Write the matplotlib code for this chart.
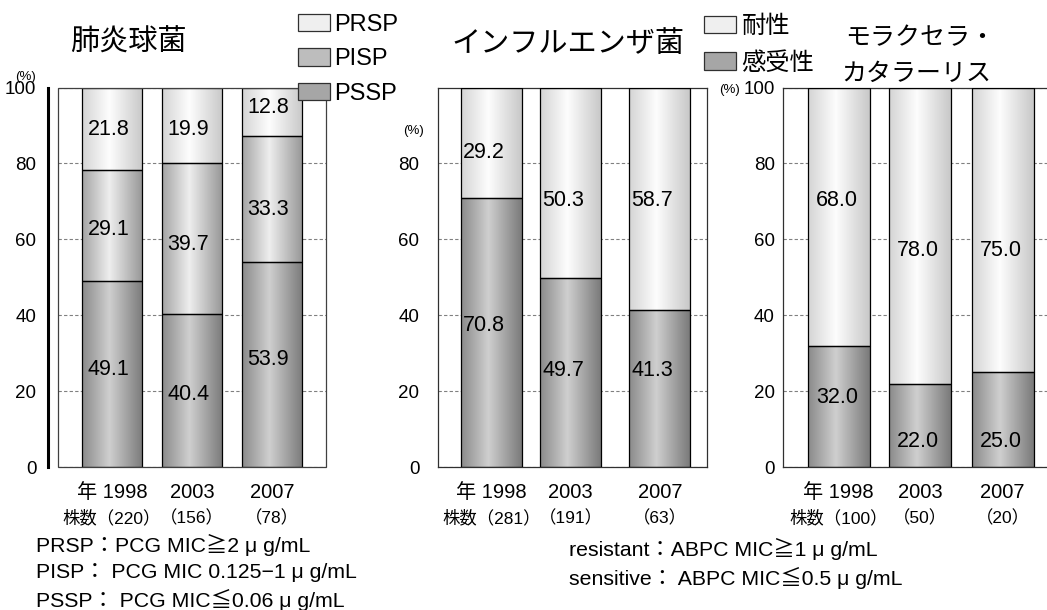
import numpy as np
import matplotlib
matplotlib.use("Agg")
import matplotlib.pyplot as plt
from matplotlib.colors import LinearSegmentedColormap
from matplotlib.patches import Patch, Rectangle
from matplotlib.transforms import blended_transform_factory

plt.rcParams['font.family'] = ['Liberation Sans', 'Noto Sans CJK JP', 'DejaVu Sans']

# ---------------- data ----------------
years = ['1998', '2003', '2007']

pneumo_counts = ['220', '156', '78']
pneumo_pssp = [49.1, 40.4, 53.9]
pneumo_pisp = [29.1, 39.7, 33.3]
pneumo_prsp = [21.8, 19.9, 12.8]

flu_counts = ['281', '191', '63']
flu_sensitive = [70.8, 49.7, 41.3]
flu_resistant = [29.2, 50.3, 58.7]

mora_counts = ['100', '50', '20']
mora_sensitive = [32.0, 22.0, 25.0]
mora_resistant = [68.0, 78.0, 75.0]

pneumo_ticks = [0, 20, 40, 60, 80, 100]
flu_ticks = [0, 20, 40, 60, 80]
mora_ticks = [0, 20, 40, 60, 80, 100]

pneumo_defs = ['PRSP：PCG MIC≧2 μ g/mL',
               'PISP： PCG MIC 0.125−1 μ g/mL',
               'PSSP： PCG MIC≦0.06 μ g/mL']
hflu_defs = ['resistant：ABPC MIC≧1 μ g/mL',
             'sensitive： ABPC MIC≦0.5 μ g/mL']

# ---------------- layout (not data) ----------------
pneumo_pos = [0, 1, 2]
flu_pos = [0, 1, 2.13]
mora_pos = [0, 1, 2.02]

pneumo_label_y = [[25.8, 19.2, 28.4], [62.6, 58.7, 67.9], [88.9, 88.9, 94.7]]
flu_label_y = [[37.4, 25.5, 25.5], [83.0, 70.3, 70.3]]
mora_label_y = [[18.4, 6.6, 6.6], [70.3, 57.1, 57.1]]

W, H = 1047, 610
fig = plt.figure(figsize=(W / 100, H / 100), dpi=100)


def fx(px):
    return px / W


def fy(py):
    return 1 - py / H


def cmap(edge_l, center, edge_r):
    return LinearSegmentedColormap.from_list(
        'g', [(0, edge_l), (0.45, center), (1, edge_r)])


CM_LIGHT = cmap('#d4d4d4', '#fdfdfd', '#c8c8c8')
CM_MID = cmap('#a4a4a4', '#eeeeee', '#969696')
CM_DARK = cmap('#8a8a8a', '#cfcfcf', '#7a7a7a')
GRAD = np.linspace(0, 1, 256)[None, :]

TOP_PX, BOT_PX = 87.5, 467


def make_ax(left_px, right_px):
    return fig.add_axes([fx(left_px), fy(BOT_PX), fx(right_px - left_px),
                         (BOT_PX - TOP_PX) / H])


def draw_stack(ax, pos, layers, width, label_y, off, fs=15.5):
    bottom = np.zeros(len(pos))
    for li, (vals, cm) in enumerate(layers):
        bars = ax.bar(pos, vals, width, bottom=bottom, facecolor='none',
                      edgecolor='black', linewidth=0.9, zorder=3)
        for i, p in enumerate(bars):
            x0, y0, w, h = p.get_x(), p.get_y(), p.get_width(), p.get_height()
            ax.imshow(GRAD, extent=(x0, x0 + w, y0, y0 + h), aspect='auto',
                      cmap=cm, zorder=2, interpolation='bilinear')
            ax.text(x0 + off, label_y[li][i], f'{vals[i]:.1f}', ha='left',
                    va='center', fontsize=fs, zorder=4)
        bottom = bottom + np.asarray(vals)


def style_ax(ax, xlim, ticks, pad):
    ax.set_xlim(*xlim)
    ax.set_ylim(0, 100)
    ax.set_yticks(ticks)
    ax.set_yticklabels([str(t) for t in ticks])
    ax.set_xticks([])
    ax.tick_params(axis='y', length=0, pad=pad, labelsize=13.5)
    ax.yaxis.grid(True, linestyle=(0, (3, 2)), color='#808080', linewidth=0.8)
    ax.set_axisbelow(True)
    for s in ax.spines.values():
        s.set_color('#303030')
        s.set_linewidth(0.9)


def year_labels(ax, pos, counts):
    trans = blended_transform_factory(ax.transData, fig.transFigure)
    for i, p in enumerate(pos):
        ax.text(p, fy(492), ('年 ' if i == 0 else '') + years[i], ha='center',
                va='center', fontsize=14.5, transform=trans)
        ax.text(p, fy(518), ('株数' if i == 0 else '') + '（' + counts[i] + '）',
                ha='center', va='center', fontsize=12.5, transform=trans)


# ---------------- panel 1: 肺炎球菌 ----------------
ax1 = make_ax(58, 326)
for k in ['top', 'right', 'bottom']:
    ax1.spines[k].set_visible(False)
ax1.spines['left'].set_position(('outward', 7.5))
draw_stack(ax1, pneumo_pos,
           [(pneumo_pssp, CM_DARK), (pneumo_pisp, CM_MID), (pneumo_prsp, CM_LIGHT)],
           0.76, pneumo_label_y, 0.075)
style_ax(ax1, (-0.675, 2.675), pneumo_ticks, 8)
ax1.spines['left'].set_color('black')
ax1.spines['left'].set_linewidth(2.2)
ax1.add_patch(Rectangle((0, 0), 1, 1, transform=ax1.transAxes, fill=False,
                        edgecolor='#404040', linewidth=0.9, zorder=5,
                        clip_on=False))
year_labels(ax1, pneumo_pos, pneumo_counts)

# ---------------- panel 2: インフルエンザ菌 ----------------
ax2 = make_ax(438, 707)
draw_stack(ax2, flu_pos, [(flu_sensitive, CM_DARK), (flu_resistant, CM_LIGHT)],
           0.77, flu_label_y, 0.025)
style_ax(ax2, (-0.677, 2.728), flu_ticks, 13.5)
year_labels(ax2, flu_pos, flu_counts)

# ---------------- panel 3: モラクセラ・カタラーリス ----------------
ax3 = make_ax(783, 1062)
draw_stack(ax3, mora_pos, [(mora_sensitive, CM_DARK), (mora_resistant, CM_LIGHT)],
           0.76, mora_label_y, 0.1)
style_ax(ax3, (-0.685, 2.75), mora_ticks, 6)
year_labels(ax3, mora_pos, mora_counts)

# ---------------- titles, units ----------------
fig.text(fx(70), fy(43), '肺炎球菌', fontsize=21, ha='left', va='center')
fig.text(fx(451), fy(44), 'インフルエンザ菌', fontsize=21, ha='left', va='center')
fig.text(fx(845), fy(38), 'モラクセラ・', fontsize=18, ha='left', va='center')
fig.text(fx(841), fy(74), 'カタラーリス', fontsize=18, ha='left', va='center')

fig.text(fx(25), fy(77), '(%)', fontsize=9.5, ha='center', va='center')
fig.text(fx(413), fy(131), '(%)', fontsize=9.5, ha='center', va='center')
fig.text(fx(730), fy(90), '(%)', fontsize=9.5, ha='center', va='center')

# ---------------- legends ----------------
fig.legend(handles=[Patch(facecolor='#efefef', edgecolor='#303030', linewidth=0.9),
                    Patch(facecolor='#bdbdbd', edgecolor='#303030', linewidth=0.9),
                    Patch(facecolor='#a6a6a6', edgecolor='#303030', linewidth=0.9)],
           labels=['PRSP', 'PISP', 'PSSP'], loc='upper left',
           bbox_to_anchor=(fx(298), fy(14)), frameon=False, fontsize=17,
           handlelength=1.35, handleheight=0.75, handletextpad=0.2,
           labelspacing=0.52, borderpad=0, borderaxespad=0)

fig.legend(handles=[Patch(facecolor='#efefef', edgecolor='#303030', linewidth=0.9),
                    Patch(facecolor='#a6a6a6', edgecolor='#303030', linewidth=0.9)],
           labels=['耐性', '感受性'], loc='upper left',
           bbox_to_anchor=(fx(704), fy(16)), frameon=False, fontsize=17.5,
           handlelength=1.3, handleheight=0.7, handletextpad=0.25,
           labelspacing=0.55, borderpad=0, borderaxespad=0)

# ---------------- definitions ----------------
for i, t in enumerate(pneumo_defs):
    fig.text(fx(36), fy(545 + 27.5 * i), t, fontsize=15.3, ha='left', va='center')
for i, t in enumerate(hflu_defs):
    fig.text(fx(569), fy(549 + 28.5 * i), t, fontsize=15.3, ha='left', va='center')

fig.savefig('out.png', dpi=100)
